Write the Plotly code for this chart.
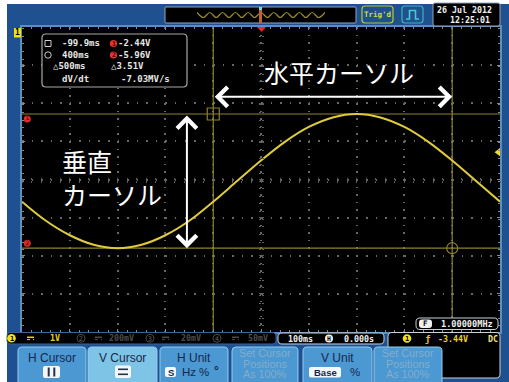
import plotly.graph_objects as go

W, H = 509, 382


def X(p):
    return p / W


def Y(p):
    return 1 - p / H


# ---------------- data ----------------
time_s = [-0.50, -0.45, -0.40, -0.35, -0.30, -0.25, -0.20, -0.15, -0.10, -0.05,
          0.00, 0.05, 0.10, 0.15, 0.20, 0.25, 0.30, 0.35, 0.40, 0.45, 0.50]
ch1_volts = [-4.74, -5.24, -5.62, -5.87, -5.96, -5.87, -5.62, -5.24, -4.74, -4.20,
             -3.66, -3.17, -2.78, -2.53, -2.44, -2.53, -2.78, -3.17, -3.66, -4.20, -4.74]
cursor_times = [-0.0999, 0.400]      # horizontal cursors (s)
cursor_volts = [-2.44, -5.96]        # vertical cursors (V)
trigger_level = -3.44
overview_idx = list(range(21))
overview_wave = [1, -1, 1, -1, 1, -1, 1, -1, 1, -1, 1, -1, 1, -1, 1, -1, 1, -1, 1, -1, 1]

readout_left = ["-99.9ms", "400ms", "△500ms", "dV/dt"]
readout_right = ["-2.44V", "-5.96V", "△3.51V", "-7.03MV/s"]
channel_scales = ["1V", "200mV", "20mV", "50mV"]
timebase_text = "100ms"
hpos_text = "0.000s"
trig_text = "-3.44V"
freq_text = "1.00000MHz"
date_text = ["26 Jul 2012", "12:25:01"]
label_h = "水平カーソル"
label_v = ["垂直", "カーソル"]

# ---------------- styling ----------------
BLUE = "#1f5190"
WAVE = "#e0cc3a"
CUR = "#8e8230"
MONO = "DejaVu Sans Mono"
SANS = "Liberation Sans"
JP = "Noto Sans CJK JP"
Y_TOP, Y_BOT = -0.158, -8.158

shapes = []
ann = []


def pt(x, y):
    return f"{X(x):.5f},{Y(y):.5f}"


def rr(x0, y0, x1, y1, r, fill=None, line=None, lw=1.0, layer="above", top_only=False):
    if top_only:
        p = (f"M{pt(x0, y1)} L{pt(x0, y0 + r)} Q{pt(x0, y0)} {pt(x0 + r, y0)} "
             f"L{pt(x1 - r, y0)} Q{pt(x1, y0)} {pt(x1, y0 + r)} L{pt(x1, y1)} Z")
    else:
        p = (f"M{pt(x0 + r, y0)} L{pt(x1 - r, y0)} Q{pt(x1, y0)} {pt(x1, y0 + r)} "
             f"L{pt(x1, y1 - r)} Q{pt(x1, y1)} {pt(x1 - r, y1)} L{pt(x0 + r, y1)} "
             f"Q{pt(x0, y1)} {pt(x0, y1 - r)} L{pt(x0, y0 + r)} Q{pt(x0, y0)} {pt(x0 + r, y0)} Z")
    shapes.append(dict(type="path", path=p, xref="paper", yref="paper", layer=layer,
                       fillcolor=fill if fill else "rgba(0,0,0,0)",
                       line=dict(color=line if line else "rgba(0,0,0,0)", width=lw if line else 0)))


def rect(x0, y0, x1, y1, fill=None, line=None, lw=1.0, layer="above"):
    shapes.append(dict(type="rect", xref="paper", yref="paper", x0=X(x0), x1=X(x1), y0=Y(y1), y1=Y(y0),
                       layer=layer, fillcolor=fill if fill else "rgba(0,0,0,0)",
                       line=dict(color=line if line else "rgba(0,0,0,0)", width=lw if line else 0)))


def circ(cx, cy, r, fill=None, line=None, lw=1.0):
    shapes.append(dict(type="circle", xref="paper", yref="paper", x0=X(cx - r), x1=X(cx + r),
                       y0=Y(cy + r), y1=Y(cy - r), layer="above",
                       fillcolor=fill if fill else "rgba(0,0,0,0)",
                       line=dict(color=line if line else "rgba(0,0,0,0)", width=lw if line else 0)))


def seg(x0, y0, x1, y1, color, w=1.0, dash="solid"):
    shapes.append(dict(type="line", xref="paper", yref="paper", x0=X(x0), x1=X(x1), y0=Y(y0), y1=Y(y1),
                       layer="above", line=dict(color=color, width=w, dash=dash)))


def T(x, y, text, size, color, xa="left", fam=MONO, bold=False):
    ann.append(dict(x=X(x), y=Y(y), xref="paper", yref="paper", text=text, showarrow=False,
                    xanchor=xa, yanchor="middle", borderpad=0,
                    font=dict(family=fam, size=size, color=color, weight="bold" if bold else "normal")))


# ---- backgrounds ----
rect(7, 4, 509, 382, fill=BLUE, layer="below")
rect(22, 27, 500, 332, fill="black", layer="below")

# ---- top bar ----
rr(165, 7, 356, 23, 1, fill="black", line="#8fa6bf", lw=1, layer="below")
rect(259, 8, 262, 23, fill="#c8602a")
rect(259, 7, 262, 10, fill="#70d8e8")
rr(362, 6, 393, 23, 3, line="#b8c832", lw=1.2)
T(377.5, 14.5, "Trig'd", 7.5, "#cfdc3c", xa="center", bold=True)
rr(402, 6, 423, 23, 3, line="#3cb4b4", lw=1.2)
shapes.append(dict(type="path", xref="paper", yref="paper", layer="above",
                   path=f"M{pt(406, 19)} L{pt(409.5, 19)} L{pt(409.5, 10.5)} L{pt(415.5, 10.5)} "
                        f"L{pt(415.5, 19)} L{pt(419, 19)}",
                   line=dict(color="#46cccc", width=1.6)))
rr(433, 3, 500, 26, 2, fill="black", line="#8fa6bf", lw=1)
T(464, 9.5, date_text[0], 8.3, "#f0f0f0", xa="center", bold=True)
T(491, 20, date_text[1], 8.3, "#f0f0f0", xa="right", bold=True)

# trigger position marker (top)
shapes.append(dict(type="path", xref="paper", yref="paper", layer="above",
                   path=f"M{pt(257, 27)} L{pt(266, 27)} L{pt(261.5, 32)} Z",
                   fillcolor="#e82a2a", line=dict(width=0)))

# channel 1 label
rect(14, 28, 21, 37.5, fill="#f2e600")
T(17.5, 33, "1", 8, "black", xa="center", bold=True)

# ---- cursor readout box ----
rr(42, 34, 187, 87, 4, fill="black", line="#a8a8a8", lw=1.2)
rect(45, 40.5, 51, 46.5, line="#cfcfcf", lw=1)
circ(48, 55, 3.2, line="#cfcfcf", lw=1)
circ(113.5, 43.5, 3.6, fill="#e83232")
circ(113.5, 55, 3.6, fill="#e83232")
T(113.5, 43.8, "1", 6.5, "#4a0000", xa="center", bold=True)
T(113.5, 55.3, "2", 6.5, "#4a0000", xa="center", bold=True)
row_y = [43.5, 55, 66.5, 79]
left_x = [61, 61, 52, 61]
right_x = [117, 117, 110, 120]
for i in range(4):
    T(left_x[i], row_y[i], readout_left[i], 9, "#e6e6e6", bold=True)
    T(right_x[i], row_y[i], readout_right[i], 9, "#e6e6e6", bold=True)

# ---- bottom status bar ----
rr(7, 332.5, 276, 344, 4, fill="black", line="#3f6390", lw=1)
ch_circle_x = [11.5, 81, 150, 217]
ch_dc_x = [27, 95, 162, 232]
ch_text_x = [49, 108, 180, 247]
for i in range(4):
    col = "#e8d420" if i == 0 else "#4c4c4c"
    if i == 0:
        circ(ch_circle_x[i], 338.3, 4.3, fill="#f2e600")
        T(ch_circle_x[i], 338.5, "1", 7, "black", xa="center", bold=True)
    else:
        circ(ch_circle_x[i], 338.3, 4, line=col, lw=1)
        T(ch_circle_x[i], 338.5, str(i + 1), 6.5, col, xa="center", bold=True)
    seg(ch_dc_x[i], 337.3, ch_dc_x[i] + 7, 337.3, col, 1.5)
    seg(ch_dc_x[i], 339.6, ch_dc_x[i] + 7, 339.6, col, 1, "dot")
    T(ch_text_x[i], 338.3, channel_scales[i], 8.3, col, bold=True)

rr(278, 333, 384, 344, 4, fill="black", line="#c9d2dc", lw=1)
T(287, 338.5, timebase_text, 8.3, "#f0f0f0", bold=True)
circ(329, 338.5, 4, fill="#f0f0f0")
T(329, 338.7, "H", 6.5, "black", xa="center", bold=True)
T(343, 338.5, hpos_text, 8.3, "#f0f0f0", bold=True)

rr(388, 332.5, 500, 378, 4, fill="black", line="#c9d2dc", lw=1)
circ(407, 338.5, 4.3, fill="#f2e600")
T(407, 338.7, "1", 7, "black", xa="center", bold=True)
T(424, 338.5, "ƒ", 9, "#e8c820", bold=True)
T(437, 338.5, trig_text, 8.3, "#e8d420", bold=True)
T(499, 338.5, "DC", 8.3, "#eee08a", xa="right", bold=True)

# frequency counter box
rr(416, 318, 498, 329.5, 4, fill="black", line="#c9d2dc", lw=1)
rr(419, 319.5, 432, 328, 3, fill="#f0f0f0")
T(425.5, 323.9, "F", 7.5, "black", xa="center", bold=True)
T(440, 323.8, freq_text, 8.6, "#f0f0f0", bold=True)

# ---- soft-key menu ----
BTN = "#4b98d3"
BTN_SEL = "#7ec4e6"
BTN_EDGE = "#93cdef"
TXT = "#16284a"
FADE = "#86adc9"
btn_x = [(18, 86), (88, 157), (160, 228), (232, 298), (303, 372), (374, 442)]
btn_fill = [BTN, BTN_SEL, BTN, BTN, BTN, BTN]
for (x0, x1), f in zip(btn_x, btn_fill):
    rr(x0, 347, x1, 392, 4, fill=f, line=BTN_EDGE, lw=1, top_only=True)

T(52, 358, "H Cursor", 12, TXT, xa="center", fam=SANS)
T(122.5, 358, "V Cursor", 12, TXT, xa="center", fam=SANS)
T(194, 358, "H Unit", 12, TXT, xa="center", fam=SANS)
T(337.5, 358, "V Unit", 12, TXT, xa="center", fam=SANS)
for cx in (265, 408):
    for yy, line in zip((353, 363.5, 374), ("Set Cursor", "Positions", "As 100%")):
        T(cx, yy, line, 10.8, FADE, xa="center", fam=SANS)

# icons
rr(43, 366, 60, 378, 2, fill="#f4f8fb")
seg(48.7, 367.5, 48.7, 376.5, "#24324a", 2)
seg(54.3, 367.5, 54.3, 376.5, "#24324a", 2)
rr(115, 365.5, 131, 378, 2, fill="#f4f8fb")
seg(118, 369.3, 128, 369.3, "#24324a", 1.6)
seg(118, 374.3, 128, 374.3, "#24324a", 1.6)
rr(165, 367, 176, 377, 2, fill="#f4f8fb")
T(170.5, 372.2, "S", 9.5, TXT, xa="center", fam=SANS, bold=True)
T(181, 372.2, "Hz", 11.5, TXT, fam=SANS)
T(204, 372.2, "%", 11.5, TXT, xa="center", fam=SANS)
T(216, 371, "°", 12, TXT, xa="center", fam=SANS, bold=True)
rr(309, 367, 341, 377.5, 2, fill="#f4f8fb")
T(325, 372.3, "Base", 9.5, TXT, xa="center", fam=SANS, bold=True)
T(355, 372.2, "%", 11.5, TXT, xa="center", fam=SANS)

# ---- big Japanese labels with arrows ----
arrow_v = -1.99
arrow_t = -0.155
ann.append(dict(x=cursor_times[1], y=arrow_v, ax=cursor_times[0], ay=arrow_v, xref="x", yref="y",
                axref="x", ayref="y", text="", showarrow=True, arrowside="end+start",
                arrowhead=4, startarrowhead=4, arrowsize=1.9, startarrowsize=1.9,
                arrowwidth=2, arrowcolor="white"))
ann.append(dict(x=arrow_t, y=cursor_volts[1], ax=arrow_t, ay=cursor_volts[0], xref="x", yref="y",
                axref="x", ayref="y", text="", showarrow=True, arrowside="end+start",
                arrowhead=4, startarrowhead=4, arrowsize=1.9, startarrowsize=1.9,
                arrowwidth=2, arrowcolor="white"))
T(339, 72, label_h, 25, "white", xa="center", fam=JP)
T(61, 161, label_v[0], 25, "white", fam=JP)
T(61, 194, label_v[1], 25, "white", fam=JP)

# ---------------- traces ----------------
fig = go.Figure()
# cursor lines (drawn from cursor data)
for t in cursor_times:
    fig.add_trace(go.Scatter(x=[t, t], y=[Y_BOT, Y_TOP], mode="lines",
                             line=dict(color=CUR, width=1.2), hoverinfo="skip", showlegend=False))
for v in cursor_volts:
    fig.add_trace(go.Scatter(x=[-0.5, 0.5], y=[v, v], mode="lines",
                             line=dict(color=CUR, width=1.2), hoverinfo="skip", showlegend=False))
fig.add_trace(go.Scatter(x=time_s, y=ch1_volts, mode="lines",
                         line=dict(color=WAVE, width=2, shape="spline", smoothing=1.0),
                         hoverinfo="skip", showlegend=False))
fig.add_trace(go.Scatter(x=[cursor_times[0]], y=[cursor_volts[0]], mode="markers",
                         marker=dict(symbol="square-open", size=12, color=CUR, line=dict(width=1.2)),
                         hoverinfo="skip", showlegend=False))
fig.add_trace(go.Scatter(x=[cursor_times[1]], y=[cursor_volts[1]], mode="markers",
                         marker=dict(symbol="circle-open", size=11, color=CUR, line=dict(width=1.2)),
                         hoverinfo="skip", showlegend=False))
# cursor level markers on the left edge
fig.add_trace(go.Scatter(x=[-0.489, -0.489], y=[cursor_volts[0] - 0.13, cursor_volts[1] + 0.13],
                         mode="markers+text", text=["1", "2"], textposition="middle center",
                         textfont=dict(family=MONO, size=6, color="#3a0000"),
                         marker=dict(symbol="circle", size=7, color="#e02a2a"),
                         cliponaxis=False, hoverinfo="skip", showlegend=False))
# trigger level marker on the right edge
fig.add_trace(go.Scatter(x=[0.497], y=[trigger_level], mode="markers",
                         marker=dict(symbol="triangle-left", size=8, color="#f0dc20"),
                         cliponaxis=False, hoverinfo="skip", showlegend=False))
# centre-cross tick axes (no data)
for xa_, ya_ in (("x2", "y"), ("x3", "y"), ("x", "y2"), ("x", "y3")):
    fig.add_trace(go.Scatter(x=[0], y=[-4.158], xaxis=xa_, yaxis=ya_, mode="markers",
                             marker=dict(size=1, color="rgba(0,0,0,0)"),
                             showlegend=False, hoverinfo="skip"))
# overview (memory) waveform
fig.add_trace(go.Scatter(x=overview_idx, y=overview_wave, xaxis="x5", yaxis="y5", mode="lines",
                         line=dict(color="#9c8a2c", width=1.2, shape="spline"),
                         hoverinfo="skip", showlegend=False))

GRID = "#676767"
TICK = "#8a8a8a"
CTICK = "#5e5e5e"
XD = [X(22), X(500)]
YD = [Y(332), Y(27)]
cx_paper = X(261)
cy_paper = Y(179.5)
common_x = dict(range=[-0.5, 0.5], showticklabels=False, zeroline=False, dtick=0.1, tick0=0)
common_y = dict(range=[Y_BOT, Y_TOP], showticklabels=False, zeroline=False, dtick=1, tick0=Y_TOP)

fig.update_layout(
    width=W, height=H, margin=dict(l=0, r=0, t=0, b=0),
    paper_bgcolor="white", plot_bgcolor="black", showlegend=False,
    xaxis=dict(domain=XD, **common_x, showgrid=True, gridcolor=GRID, gridwidth=1.5,
               griddash="1.5px,6.1px", ticks="inside", ticklen=3, tickcolor=TICK,
               minor=dict(dtick=0.02, ticks="inside", ticklen=2, tickcolor=TICK, showgrid=False),
               showline=True, linecolor="#5b8fbd", linewidth=2, mirror="ticks", anchor="y"),
    yaxis=dict(domain=YD, **common_y, showgrid=True, gridcolor=GRID, gridwidth=1.5,
               griddash="1.5px,8.06px", ticks="inside", ticklen=3, tickcolor=TICK,
               minor=dict(dtick=0.2, ticks="inside", ticklen=2, tickcolor=TICK, showgrid=False),
               showline=True, linecolor="#5b8fbd", linewidth=2, mirror="ticks", anchor="x"),
    xaxis2=dict(overlaying="x", anchor="free", position=cy_paper, **common_x, showgrid=False,
                showline=False, ticks="inside", ticklen=2, tickcolor=CTICK,
                minor=dict(dtick=0.02, ticks="inside", ticklen=2, tickcolor=CTICK)),
    xaxis3=dict(overlaying="x", anchor="free", position=cy_paper, **common_x, showgrid=False,
                showline=False, ticks="outside", ticklen=2, tickcolor=CTICK,
                minor=dict(dtick=0.02, ticks="outside", ticklen=2, tickcolor=CTICK)),
    yaxis2=dict(overlaying="y", anchor="free", position=cx_paper, **common_y, showgrid=False,
                showline=False, ticks="inside", ticklen=2, tickcolor=CTICK,
                minor=dict(dtick=0.2, ticks="inside", ticklen=2, tickcolor=CTICK)),
    yaxis3=dict(overlaying="y", anchor="free", position=cx_paper, **common_y, showgrid=False,
                showline=False, ticks="outside", ticklen=2, tickcolor=CTICK,
                minor=dict(dtick=0.2, ticks="outside", ticklen=2, tickcolor=CTICK)),
    xaxis5=dict(domain=[X(197), X(325)], anchor="y5", range=[0, 20], visible=False),
    yaxis5=dict(domain=[Y(19), Y(11)], anchor="x5", range=[-1.6, 1.6], visible=False),
    shapes=shapes, annotations=ann,
)

fig.write_html("out.html", config={"displayModeBar": False},
               post_script="document.body.style.margin='0';")
